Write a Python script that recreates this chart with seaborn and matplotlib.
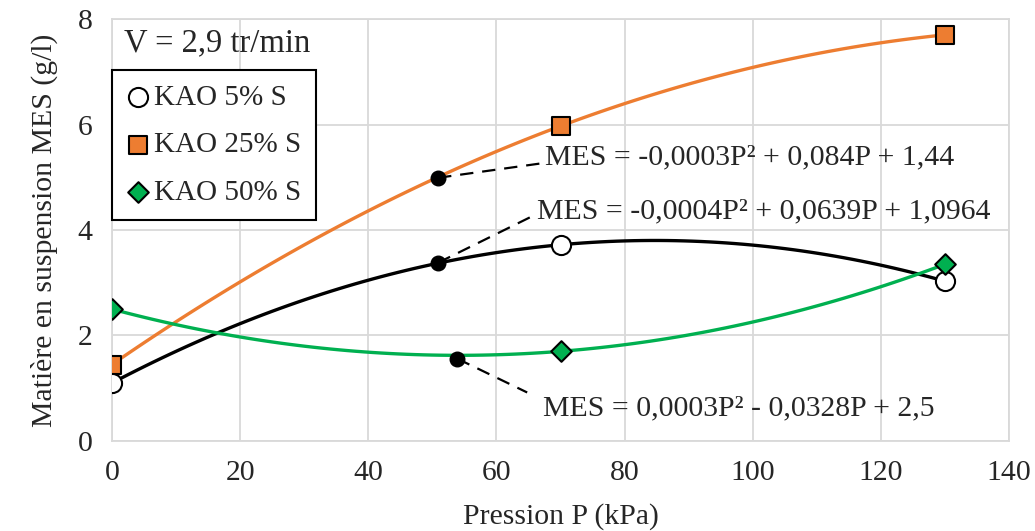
import seaborn as sns
import pandas as pd
import numpy as np
import matplotlib.pyplot as plt

# pressure (kPa) and MES (g/l)
pression = [0, 70, 130]
mes_5 = [1.10, 3.72, 3.03]
mes_25 = [1.45, 5.97, 7.70]
mes_50 = [2.50, 1.70, 3.35]

labels = ['KAO 5% S', 'KAO 25% S', 'KAO 50% S']
colors = ['black', '#ED7D31', '#00B050']

# trendline labels: anchor point on the curve, leader end, text position
eq_texts = ['MES = -0,0003P² + 0,084P + 1,44',
            'MES = -0,0004P² + 0,0639P + 1,0964',
            'MES = 0,0003P² - 0,0328P + 2,5']
eq_anchor_x = [50.9, 50.9, 53.9]
eq_anchor_y = [4.99, 3.38, 1.56]
eq_end_x = [67.4, 65.4, 64.8]
eq_end_y = [5.27, 4.25, 0.92]
eq_text_x = [67.6, 66.4, 67.2]
eq_text_y = [5.38, 4.36, 0.62]

sns.set_style('white')
plt.rcParams['font.family'] = ['Liberation Serif', 'DejaVu Serif']
fs = 21.4

df = pd.DataFrame({'P': pression, labels[0]: mes_5, labels[1]: mes_25, labels[2]: mes_50})

fig = plt.figure(figsize=(10.35, 5.31), dpi=100)
ax = fig.add_axes([0.1082, 0.1695, 0.8667, 0.7947])

# smoothed 2nd order curves
for lab, col in zip(labels, colors):
    sns.regplot(data=df, x='P', y=lab, order=2, ci=None, scatter=False, truncate=True,
                line_kws=dict(color=col, lw=2.4, zorder=2), ax=ax)

# markers
sns.scatterplot(data=df, x='P', y=labels[0], marker='o', s=190, color='white',
                edgecolor='black', linewidth=1.5, label=labels[0], zorder=3, ax=ax)
sns.scatterplot(data=df, x='P', y=labels[1], marker='s', s=160, color=colors[1],
                edgecolor='black', linewidth=1.5, label=labels[1], zorder=3, ax=ax)
sns.scatterplot(data=df, x='P', y=labels[2], marker='D', s=110, color=colors[2],
                edgecolor='black', linewidth=1.5, label=labels[2], zorder=3, ax=ax)

# equation labels with dashed leaders
for i, txt in enumerate(eq_texts):
    ax.plot([eq_anchor_x[i], eq_end_x[i]], [eq_anchor_y[i], eq_end_y[i]], color='black',
            lw=1.6, ls=(0, (6, 4)), zorder=4)
    ax.scatter([eq_anchor_x[i]], [eq_anchor_y[i]], s=110, color='black', zorder=5)
    ax.text(eq_text_x[i], eq_text_y[i], txt, ha='left', va='center', fontsize=fs)

ax.text(1.8, 7.54, 'V = 2,9 tr/min', ha='left', va='center', fontsize=23.5)

ax.set_xlim(0, 140)
ax.set_ylim(0, 8)
ax.set_xticks(range(0, 141, 20))
ax.set_yticks(range(0, 9, 2))
ax.grid(True, color='#D9D9D9', lw=1.3)
ax.set_axisbelow(True)
for sp in ax.spines.values():
    sp.set_color('#D9D9D9')
    sp.set_linewidth(1.3)
ax.tick_params(length=0, pad=14, labelsize=fs)

ax.set_xlabel('Pression P (kPa)', fontsize=fs, labelpad=12)
ax.set_ylabel('Matière en suspension MES (g/l)', fontsize=fs, labelpad=14)

leg = ax.legend(loc='upper left', bbox_to_anchor=(0, 0.879), borderaxespad=0,
                fancybox=False, framealpha=1, edgecolor='black', fontsize=21,
                handlelength=0.8, handletextpad=0.15, labelspacing=0.72, borderpad=0.5)
leg.get_frame().set_linewidth(1.5)

plt.savefig('out.png', dpi=100)
